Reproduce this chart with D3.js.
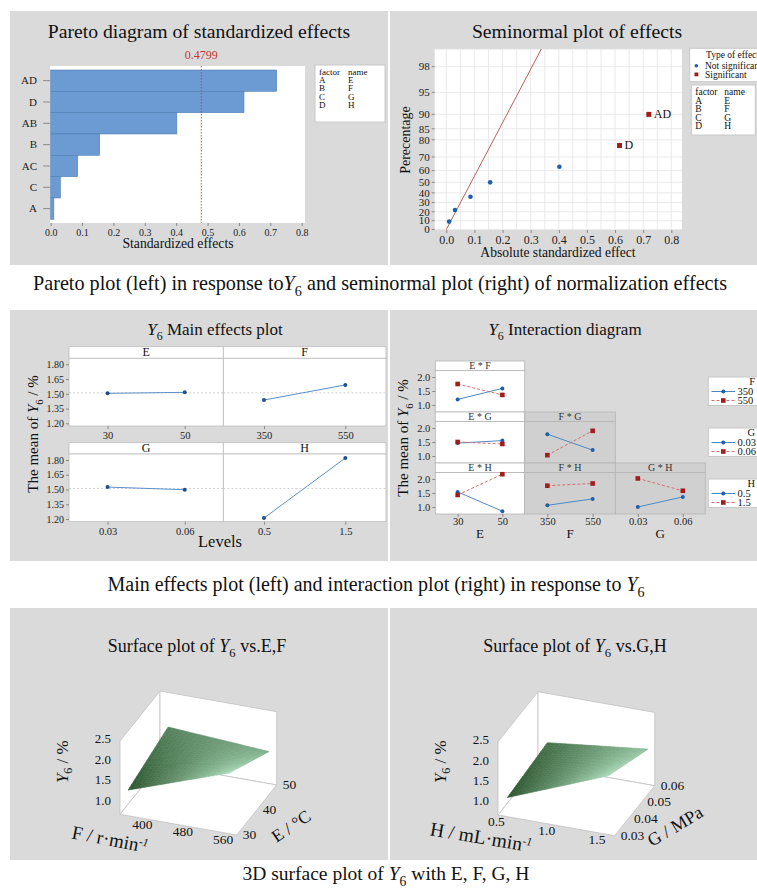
<!DOCTYPE html>
<html>
<head>
<meta charset="utf-8">
<script src="https://cdn.jsdelivr.net/npm/d3@7"></script>
<style>
  body { margin: 0; background: #fff; }
  svg { display: block; font-family: "Liberation Serif", "Times New Roman", serif; }
</style>
</head>
<body>
<div id="viz"></div>
<script>
// ---------- data ----------
const effectTerms = ['AD', 'D', 'AB', 'B', 'AC', 'C', 'A'];
const effectValues = [0.720, 0.616, 0.402, 0.156, 0.086, 0.031, 0.010];
const effectPercents = [90, 77, 63, 50, 36, 22, 9];
const significantTerms = ['AD', 'D'];
const paretoCutoff = 0.4799;
const refLineSigma = 0.131;
const factorCodes = ['A', 'B', 'C', 'D'];
const factorNames = ['E', 'F', 'G', 'H'];
const effectTicks = [0, 0.1, 0.2, 0.3, 0.4, 0.5, 0.6, 0.7, 0.8];
const percentTicks = [0, 10, 20, 30, 40, 50, 60, 70, 80, 85, 90, 95, 98];

const factorLevels = [['30', '50'], ['350', '550'], ['0.03', '0.06'], ['0.5', '1.5']];
const mainMeans = [[1.505, 1.515], [1.437, 1.590], [1.525, 1.498], [1.210, 1.820]];
const grandMean = 1.51;
const mainTicks = [1.20, 1.35, 1.50, 1.65, 1.80];

// interaction means: [trace low level, trace high level] x [x low, x high]
const interEF = [[1.20, 1.59], [1.75, 1.36]];
const interEG = [[1.46, 1.55], [1.50, 1.43]];
const interFG = [[1.78, 1.21], [1.03, 1.90]];
const interEH = [[1.54, 0.85], [1.43, 2.17]];
const interFH = [[1.06, 1.29], [1.76, 1.84]];
const interGH = [[1.00, 1.36], [2.02, 1.58]];
const interTicks = [1.0, 1.5, 2.0];

// surfaces: rows = depth factor (low, high), cols = front factor (low, high)
const surfEF = [[1.28, 2.14], [1.60, 1.44]];
const surfGH = [[1.12, 2.09], [1.24, 1.52]];
const zTicks = [1.0, 1.5, 2.0, 2.5];
const fTicks = [400, 480, 560];
const eTicks = [30, 40, 50];
const hTicks = [0.5, 1.0, 1.5];
const gTicks = [0.03, 0.04, 0.05, 0.06];

// ---------- setup ----------
const W = 757, H = 888;
const serif = '"Liberation Serif", "Times New Roman", serif';
const panelGray = '#dadada';
const blue = '#1f5fa8', red = '#a11d1d';

const svg = d3.select('#viz').append('svg').attr('width', W).attr('height', H);
svg.append('rect').attr('width', W).attr('height', H).attr('fill', '#fff');

[[10, 11, 378, 254], [390, 11, 367, 254], [10, 310, 378, 251], [390, 310, 367, 251],
 [10, 608, 378, 252], [390, 608, 367, 252]].forEach(p => {
  svg.append('rect').attr('x', p[0]).attr('y', p[1]).attr('width', p[2]).attr('height', p[3]).attr('fill', panelGray);
});

// text with italic Y and subscript 6
const addY6 = (t, before, after, size) => {
  if (before) t.append('tspan').text(before);
  t.append('tspan').attr('font-style', 'italic').text('Y');
  t.append('tspan').attr('font-size', size * 0.7).attr('dy', size * 0.3).text('6');
  t.append('tspan').attr('dy', -size * 0.3).text(after);
};

const styleAxis = (g, size) => {
  g.attr('font-family', serif).attr('font-size', size);
  g.select('.domain').remove();
  g.selectAll('line').attr('stroke', '#8a8a8a');
  g.selectAll('text').attr('fill', '#222');
};

const text = (x, y, s, size, anchor) => svg.append('text')
  .attr('x', x).attr('y', y).attr('font-size', size)
  .attr('text-anchor', anchor || 'middle').attr('fill', '#111').text(s);

const factorLegend = (x, y, w, h, size, step) => {
  svg.append('rect').attr('x', x).attr('y', y).attr('width', w).attr('height', h)
    .attr('fill', '#fff').attr('stroke', '#c8c8c8');
  const rows = [['factor', 'name']].concat(factorCodes.map((c, i) => [c, factorNames[i]]));
  rows.forEach((r, i) => {
    text(x + 4, y + 10 + i * step, r[0], size, 'start');
    text(x + 33, y + 10 + i * step, r[1], size, 'start');
  });
};

// ---------- Pareto ----------
text(199, 37.5, 'Pareto diagram of standardized effects', 19.7);
svg.append('rect').attr('x', 50).attr('y', 66).attr('width', 255).attr('height', 157).attr('fill', '#fff');
const px = d3.scaleLinear().domain([0, 0.8]).range([50.7, 301.7]);
const py = d3.scaleBand().domain(effectTerms).range([70, 219.3]).padding(0);

svg.append('g').selectAll('rect').data(effectTerms).join('rect')
  .attr('x', px(0)).attr('y', d => py(d))
  .attr('width', (d, i) => px(effectValues[i]) - px(0)).attr('height', py.bandwidth())
  .attr('fill', '#6b9bd2').attr('stroke', '#4f7db3').attr('stroke-width', 0.6);

svg.append('g').attr('transform', 'translate(0,223)')
  .call(d3.axisBottom(px).tickValues(effectTicks).tickFormat(d3.format('.1f')).tickSize(3).tickPadding(2.5))
  .call(g => styleAxis(g, 10));
svg.append('g').attr('transform', 'translate(50,0)')
  .call(d3.axisLeft(py).tickSize(7).tickPadding(6))
  .call(g => styleAxis(g, 11));

svg.append('line').attr('x1', px(paretoCutoff)).attr('x2', px(paretoCutoff)).attr('y1', 66).attr('y2', 223)
  .attr('stroke', '#d0413a').attr('stroke-width', 0.9).attr('stroke-dasharray', '1.5,1.5');
text(px(paretoCutoff), 59, d3.format('.4f')(paretoCutoff), 12).attr('fill', '#c0392b');
text(178, 248, 'Standardized effects', 13.7);
factorLegend(315, 65, 70, 57, 9, 8.2);

// ---------- Seminormal ----------
const invNorm = p => {
  const q = p < 0.5 ? p : 1 - p;
  const t = Math.sqrt(-2 * Math.log(q));
  const x = t - (2.515517 + 0.802853 * t + 0.010328 * t * t) /
    (1 + 1.432788 * t + 0.189269 * t * t + 0.001308 * t * t * t);
  return p < 0.5 ? -x : x;
};
const halfQ = pct => Math.max(0, invNorm(0.5 + pct / 200));

text(577, 37.5, 'Seminormal plot of effects', 19.7);
const sLeft = 434.7, sRight = 682, sTop = 49, sBottom = 230;
svg.append('rect').attr('x', sLeft).attr('y', sTop).attr('width', sRight - sLeft).attr('height', sBottom - sTop).attr('fill', '#fff');
const sx = d3.scaleLinear().domain([0, 0.8]).range([446.3, 671.3]);
const sq = d3.scaleLinear().domain([0, halfQ(98)]).range([229.5, 66.7]);
const sy = p => sq(halfQ(p));

const grid = svg.append('g').attr('stroke', '#e4e4e4').attr('stroke-width', 0.8);
grid.selectAll('line.v').data(d3.range(0, 0.8001, 0.05)).join('line')
  .attr('x1', d => sx(d)).attr('x2', d => sx(d)).attr('y1', sTop).attr('y2', sBottom);
grid.selectAll('line.h').data(percentTicks.concat([99])).join('line').attr('class', 'h')
  .attr('x1', sLeft).attr('x2', sRight).attr('y1', d => sy(d)).attr('y2', d => sy(d));

svg.append('g').attr('transform', `translate(0,${sBottom})`)
  .call(d3.axisBottom(sx).tickValues(effectTicks).tickFormat(d3.format('.1f')).tickSize(3).tickPadding(2.5))
  .call(g => styleAxis(g, 12));
const yTickG = svg.append('g').attr('font-size', 11).attr('text-anchor', 'end');
percentTicks.forEach(p => {
  yTickG.append('line').attr('x1', sLeft - 3).attr('x2', sLeft).attr('y1', sy(p)).attr('y2', sy(p)).attr('stroke', '#8a8a8a');
  yTickG.append('text').attr('x', sLeft - 5).attr('y', sy(p)).attr('dy', '0.34em').attr('fill', '#222').text(p);
});

svg.append('clipPath').attr('id', 'semiClip').append('rect')
  .attr('x', sLeft).attr('y', sTop).attr('width', sRight - sLeft).attr('height', sBottom - sTop);
svg.append('line').attr('clip-path', 'url(#semiClip)')
  .attr('x1', sx(0)).attr('y1', sq(0)).attr('x2', sx(refLineSigma * 3)).attr('y2', sq(3))
  .attr('stroke', '#b8625a').attr('stroke-width', 1);

const semiPts = effectTerms.map((t, i) => ({term: t, x: effectValues[i], p: effectPercents[i], sig: significantTerms.includes(t)}));
svg.append('g').selectAll('circle').data(semiPts.filter(d => !d.sig)).join('circle')
  .attr('cx', d => sx(d.x)).attr('cy', d => sy(d.p)).attr('r', 2.3).attr('fill', blue);
svg.append('g').selectAll('rect').data(semiPts.filter(d => d.sig)).join('rect')
  .attr('x', d => sx(d.x) - 2.5).attr('y', d => sy(d.p) - 2.5).attr('width', 5).attr('height', 5).attr('fill', red);
semiPts.filter(d => d.sig).forEach(d => {
  text(sx(d.x) + 5, sy(d.p), d.term, 12, 'start').attr('dy', '0.3em');
});

text(404.7, 140, 'Perecentage', 14).attr('transform', 'rotate(-90,404.7,140)').attr('dy', '0.35em');
text(558, 257, 'Absolute standardized effect', 13.6);

svg.append('rect').attr('x', 689.7).attr('y', 48.3).attr('width', 80).attr('height', 33.4)
  .attr('fill', '#fff').attr('stroke', '#c8c8c8');
text(706, 57.5, 'Type of effect', 9.5, 'start');
svg.append('circle').attr('cx', 696.3).attr('cy', 65.7).attr('r', 1.8).attr('fill', blue);
text(705, 68.8, 'Not significant', 9.5, 'start');
svg.append('rect').attr('x', 694.5).attr('y', 72.5).attr('width', 3.8).attr('height', 3.8).attr('fill', red);
text(705, 77.5, 'Significant', 9.5, 'start');
factorLegend(691.3, 85, 64, 50, 9.5, 8.6);

// ---------- Main effects ----------
const meTitle = svg.append('text').attr('x', 215).attr('y', 335).attr('font-size', 17).attr('text-anchor', 'middle').attr('fill', '#111');
addY6(meTitle, '', ' Main effects plot', 17);
const meCols = [[69, 223.3], [223.3, 386]];
const meRows = [{strip: 346.7, top: 358.3, bottom: 426}, {strip: 442.7, top: 454, bottom: 521.7}];

factorNames.forEach((f, i) => {
  const [x0, x1] = meCols[i % 2];
  const r = meRows[Math.floor(i / 2)];
  const xs = d3.scalePoint().domain(factorLevels[i]).range([x0, x1]).padding(0.5);
  const ys = d3.scaleLinear().domain([1.173, 1.861]).range([r.bottom, r.top]);
  svg.append('rect').attr('x', x0).attr('y', r.strip).attr('width', x1 - x0).attr('height', r.top - r.strip)
    .attr('fill', '#fff').attr('stroke', '#bdbdbd').attr('stroke-width', 0.8);
  text((x0 + x1) / 2, r.top - 2, f, 12);
  svg.append('rect').attr('x', x0).attr('y', r.top).attr('width', x1 - x0).attr('height', r.bottom - r.top)
    .attr('fill', '#fff').attr('stroke', '#bdbdbd').attr('stroke-width', 0.8);
  svg.append('line').attr('x1', x0).attr('x2', x1).attr('y1', ys(grandMean)).attr('y2', ys(grandMean))
    .attr('stroke', '#c4c4c4').attr('stroke-width', 0.8).attr('stroke-dasharray', '2,2');
  const pts = factorLevels[i].map((l, j) => [xs(l), ys(mainMeans[i][j])]);
  svg.append('path').attr('d', d3.line()(pts)).attr('fill', 'none').attr('stroke', '#5b8fc8').attr('stroke-width', 1);
  svg.append('g').selectAll('circle').data(pts).join('circle')
    .attr('cx', d => d[0]).attr('cy', d => d[1]).attr('r', 2).attr('fill', '#1d4f8f');
  svg.append('g').attr('transform', `translate(0,${r.bottom})`)
    .call(d3.axisBottom(xs).tickSize(3).tickPadding(2.4))
    .call(g => styleAxis(g, 10.5));
  if (i % 2 === 0) {
    svg.append('g').attr('transform', `translate(${x0},0)`)
      .call(d3.axisLeft(ys).tickValues(mainTicks).tickFormat(d3.format('.2f')).tickSize(3).tickPadding(2))
      .call(g => styleAxis(g, 10));
  }
});
const meY = svg.append('text').attr('font-size', 15).attr('text-anchor', 'middle').attr('fill', '#111')
  .attr('transform', 'translate(38,434) rotate(-90)');
addY6(meY, 'The mean of ', ' / %', 15);
text(220, 547, 'Levels', 16.5);

// ---------- Interaction ----------
const itTitle = svg.append('text').attr('x', 565).attr('y', 335).attr('font-size', 17).attr('text-anchor', 'middle').attr('fill', '#111');
addY6(itTitle, '', '  Interaction diagram', 17);
const itCols = [[435.3, 524.7], [524.7, 615.3], [615.3, 705.3]];
const itRows = [361, 412, 463];
const stripH = 9.5, rowH = 51;
const xFactorIdx = [0, 1, 2];          // E, F, G on the columns
const traceFactorIdx = [1, 2, 3];      // F, G, H on the rows
const interMeans = [[interEF], [interEG, interFG], [interEH, interFH, interGH]];

interMeans.forEach((row, r) => {
  row.forEach((m, c) => {
    const [x0, x1] = itCols[c];
    const sTopY = itRows[r], top = sTopY + stripH, bottom = sTopY + rowH;
    const xf = xFactorIdx[c], tf = traceFactorIdx[r];
    const shade = c === 0 ? '#fff' : '#d0d0d0';
    const xs = d3.scalePoint().domain(factorLevels[xf]).range([x0, x1]).padding(0.5);
    const ys = d3.scaleLinear().domain([0.75, 2.232]).range([bottom, top]);
    svg.append('rect').attr('x', x0).attr('y', sTopY).attr('width', x1 - x0).attr('height', stripH)
      .attr('fill', shade).attr('stroke', '#b4b4b4').attr('stroke-width', 0.8);
    text((x0 + x1) / 2, top - 1.5, `${factorNames[xf]} * ${factorNames[tf]}`, 10).attr('fill', '#333');
    svg.append('rect').attr('x', x0).attr('y', top).attr('width', x1 - x0).attr('height', bottom - top)
      .attr('fill', shade).attr('stroke', '#b4b4b4').attr('stroke-width', 0.8);
    m.forEach((vals, k) => {
      const pts = factorLevels[xf].map((l, j) => [xs(l), ys(vals[j])]);
      svg.append('path').attr('d', d3.line()(pts)).attr('fill', 'none')
        .attr('stroke', k === 0 ? '#4d88c6' : '#cf6f6f').attr('stroke-width', 1)
        .attr('stroke-dasharray', k === 0 ? null : '3,2');
      if (k === 0) {
        svg.append('g').selectAll('circle').data(pts).join('circle')
          .attr('cx', d => d[0]).attr('cy', d => d[1]).attr('r', 2).attr('fill', blue);
      } else {
        svg.append('g').selectAll('rect').data(pts).join('rect')
          .attr('x', d => d[0] - 2.3).attr('y', d => d[1] - 2.3).attr('width', 4.6).attr('height', 4.6).attr('fill', red);
      }
    });
    if (c === 0) {
      svg.append('g').attr('transform', `translate(${x0},0)`)
        .call(d3.axisLeft(ys).tickValues(interTicks).tickFormat(d3.format('.1f')).tickSize(3).tickPadding(2))
        .call(g => styleAxis(g, 10.5));
    }
    if (r === 2) {
      svg.append('g').attr('transform', `translate(0,${bottom})`)
        .call(d3.axisBottom(xs).tickSize(3).tickPadding(1))
        .call(g => styleAxis(g, 10.5));
      text((x0 + x1) / 2, 537.5, factorNames[xf], 13);
    }
  });
  // legend for the trace factor of this row
  const tf = traceFactorIdx[r];
  const ly = itRows[r] + stripH + 6.5;
  svg.append('rect').attr('x', 708.3).attr('y', ly).attr('width', 60).attr('height', 28.5)
    .attr('fill', '#fff').attr('stroke', '#c8c8c8');
  text(755, ly + 8, factorNames[tf], 10.5, 'end');
  factorLevels[tf].forEach((l, k) => {
    const yy = ly + 14.5 + k * 9;
    svg.append('line').attr('x1', 711.5).attr('x2', 735).attr('y1', yy).attr('y2', yy)
      .attr('stroke', k === 0 ? '#4d88c6' : '#cf6f6f').attr('stroke-dasharray', k === 0 ? null : '3,2');
    if (k === 0) svg.append('circle').attr('cx', 723.3).attr('cy', yy).attr('r', 2).attr('fill', blue);
    else svg.append('rect').attr('x', 721).attr('y', yy - 2.3).attr('width', 4.6).attr('height', 4.6).attr('fill', red);
    text(737.5, yy + 3.5, l, 10.5, 'start');
  });
});
const itY = svg.append('text').attr('font-size', 15).attr('text-anchor', 'middle').attr('fill', '#111')
  .attr('transform', 'translate(408,438) rotate(-90)');
addY6(itY, 'The mean of  ', '  / %', 15);

// ---------- Surface plots ----------
const boxU = [116.7, 20.7], boxV = [40, -50], boxW = [0, -73.3];
const zDomain = [0.65, 2.45];
const shadeColor = d3.interpolateRgb('#2b552d', '#bdeecd');

const drawSurface = cfg => {
  const g = svg.append('g');
  const [ox, oy] = cfg.origin;
  const proj = (u, v, w) => [ox + u * boxU[0] + v * boxV[0] + w * boxW[0], oy + u * boxU[1] + v * boxV[1] + w * boxW[1]];
  const us = d3.scaleLinear().domain(cfg.uDomain).range([0, 1]);
  const vs = d3.scaleLinear().domain(cfg.vDomain).range([0, 1]);
  const ws = d3.scaleLinear().domain(zDomain).range([0, 1]);
  const poly = pts => 'M' + pts.map(p => p.map(n => n.toFixed(2)).join(',')).join('L') + 'Z';

  const walls = [
    [[0, 0, 0], [0, 1, 0], [0, 1, 1], [0, 0, 1]],
    [[0, 1, 0], [1, 1, 0], [1, 1, 1], [0, 1, 1]],
    [[0, 0, 0], [1, 0, 0], [1, 1, 0], [0, 1, 0]]
  ];
  g.selectAll('path.wall').data(walls).join('path').attr('class', 'wall')
    .attr('d', d => poly(d.map(p => proj(...p))))
    .attr('fill', '#fff').attr('stroke', '#c2c2c2').attr('stroke-width', 0.8);

  const z = cfg.values;
  const uLv = cfg.uLevels, vLv = cfg.vLevels;
  const bil = (s, t) => z[0][0] * (1 - s) * (1 - t) + z[0][1] * s * (1 - t) + z[1][0] * (1 - s) * t + z[1][1] * s * t;
  const light = (s, t) => {
    const dzs = (z[0][1] - z[0][0]) * (1 - t) + (z[1][1] - z[1][0]) * t;
    const dzt = (z[1][0] - z[0][0]) * (1 - s) + (z[1][1] - z[0][1]) * s;
    return -0.3 * dzs - dzt;
  };
  const corners = [[0, 0], [1, 0], [0, 1], [1, 1]];
  const lExt = d3.extent(corners, c => light(...c));
  const zExt = d3.extent(corners, c => bil(...c));
  const pt = (s, t) => proj(us(uLv[0] + (uLv[1] - uLv[0]) * s), vs(vLv[0] + (vLv[1] - vLv[0]) * t), ws(bil(s, t)));
  const n = 24, cells = [];
  for (let j = 0; j < n; j++) {
    for (let i = 0; i < n; i++) {
      const s0 = i / n, s1 = (i + 1) / n, t0 = j / n, t1 = (j + 1) / n;
      const sc = (s0 + s1) / 2, tc = (t0 + t1) / 2;
      const k = 0.5 * (bil(sc, tc) - zExt[0]) / (zExt[1] - zExt[0]) + 0.5 * (light(sc, tc) - lExt[0]) / (lExt[1] - lExt[0]);
      cells.push({d: poly([pt(s0, t0), pt(s1, t0), pt(s1, t1), pt(s0, t1)]), c: shadeColor(k), depth: sc * 20.7 - tc * 50});
    }
  }
  cells.sort((a, b) => a.depth - b.depth);
  g.selectAll('path.cell').data(cells).join('path').attr('class', 'cell')
    .attr('d', d => d.d).attr('fill', d => d.c).attr('stroke', d => d.c).attr('stroke-width', 0.6);

  zTicks.forEach(t => {
    const p = proj(0, 0, ws(t));
    text(p[0] - 9, p[1] + 4.5, d3.format('.1f')(t), 13, 'end');
  });
  cfg.uTicks.forEach(t => {
    const p = proj(us(t), 0, 0);
    text(p[0] - 11, p[1] + 9, cfg.uFormat(t), 13.5);
  });
  cfg.vTicks.forEach(t => {
    const p = proj(1, vs(t), 0);
    text(p[0] + 6, p[1] + 4, cfg.vFormat(t), 13.5, 'start');
  });
};

const sEF = svg.append('text').attr('x', 197).attr('y', 652).attr('font-size', 18).attr('text-anchor', 'middle').attr('fill', '#111');
addY6(sEF, 'Surface plot of ', ' vs.E,F', 18);
const sGH = svg.append('text').attr('x', 575).attr('y', 652).attr('font-size', 18).attr('text-anchor', 'middle').attr('fill', '#111');
addY6(sGH, 'Surface plot of ', '  vs.G,H', 18);

drawSurface({origin: [120, 814.3], values: surfEF, uDomain: [334, 565], vDomain: [30, 50],
  uLevels: [+factorLevels[1][0], +factorLevels[1][1]], vLevels: [+factorLevels[0][0], +factorLevels[0][1]],
  uTicks: fTicks, vTicks: eTicks, uFormat: d3.format('d'), vFormat: d3.format('d')});
drawSurface({origin: [498, 815], values: surfGH, uDomain: [0.407, 1.566], vDomain: [0.03, 0.06],
  uLevels: [+factorLevels[3][0], +factorLevels[3][1]], vLevels: [+factorLevels[2][0], +factorLevels[2][1]],
  uTicks: hTicks, vTicks: gTicks, uFormat: d3.format('.1f'), vFormat: d3.format('.2f')});

[[61.7, 761.7], [439.7, 761.7]].forEach(([x, y]) => {
  const t = svg.append('text').attr('font-size', 17).attr('text-anchor', 'middle').attr('fill', '#111')
    .attr('transform', `translate(${x},${y}) rotate(-90)`).attr('dy', '0.35em');
  t.append('tspan').attr('font-style', 'italic').text('Y');
  t.append('tspan').attr('font-size', 12).attr('dy', 4).text('6');
  t.append('tspan').attr('dy', -4).text(' / %');
});
const axisTitle = (x, y, ang, size, main, sup) => {
  const t = svg.append('text').attr('font-size', size).attr('text-anchor', 'middle').attr('fill', '#111')
    .attr('transform', `translate(${x},${y}) rotate(${ang})`).attr('dy', '0.35em');
  t.append('tspan').text(main);
  if (sup) t.append('tspan').attr('font-size', size * 0.6).attr('font-style', 'italic').attr('dy', -size * 0.32).text(sup);
};
axisTitle(110, 839, 11, 19, 'F / r\u00b7min', '-1');
axisTitle(291, 826, -34, 17.5, 'E / \u00b0C');
axisTitle(481, 837, 9.5, 19.5, 'H / mL\u00b7min', '-1');
axisTitle(675, 826, -31, 18, 'G / MPa');

// ---------- captions ----------
const cap1 = svg.append('text').attr('x', 380).attr('y', 290).attr('font-size', 20.2).attr('text-anchor', 'middle').attr('fill', '#111');
addY6(cap1, 'Pareto plot (left) in response to', ' and seminormal plot (right) of normalization effects', 20.2);
const cap2 = svg.append('text').attr('x', 376).attr('y', 591).attr('font-size', 20).attr('text-anchor', 'middle').attr('fill', '#111');
addY6(cap2, 'Main effects plot (left) and interaction plot (right) in response to ', '', 20);
const cap3 = svg.append('text').attr('x', 386).attr('y', 880).attr('font-size', 19.5).attr('text-anchor', 'middle').attr('fill', '#111');
addY6(cap3, '3D surface plot of ', ' with E, F, G, H', 19.5);
</script>
</body>
</html>
